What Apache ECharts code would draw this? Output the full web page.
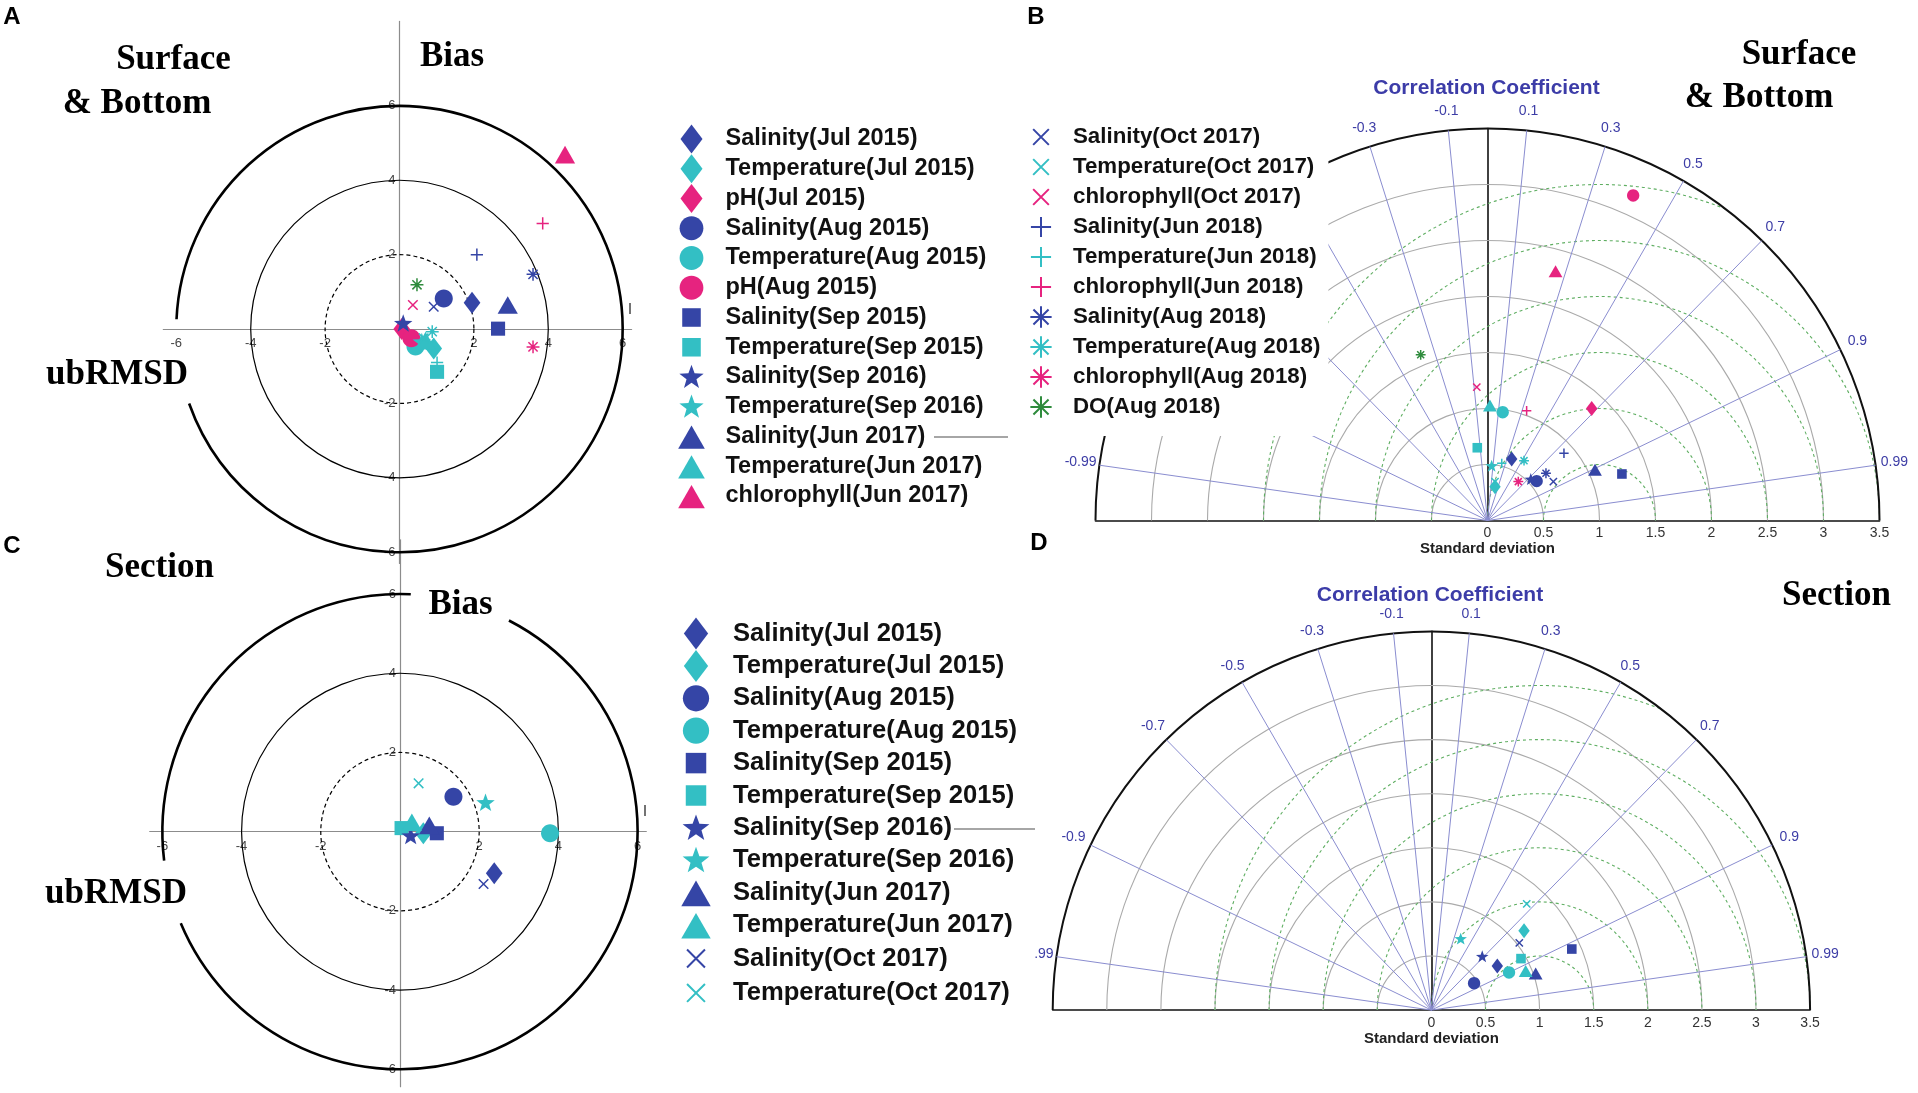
<!DOCTYPE html>
<html><head><meta charset="utf-8">
<script src="https://cdn.jsdelivr.net/npm/echarts@6/dist/echarts.min.js"></script>
<style>html,body{margin:0;padding:0;background:#fff}#c{width:1918px;height:1093px}</style>
</head><body><div id="c"></div><script>
// ===================== DATA =====================
// Panels A (target) and B (Taylor) : Surface & Bottom
const namesAB = [
  'Salinity(Jul 2015)','Temperature(Jul 2015)','pH(Jul 2015)',
  'Salinity(Aug 2015)','Temperature(Aug 2015)','pH(Aug 2015)',
  'Salinity(Sep 2015)','Temperature(Sep 2015)',
  'Salinity(Sep 2016)','Temperature(Sep 2016)',
  'Salinity(Jun 2017)','Temperature(Jun 2017)','chlorophyll(Jun 2017)',
  'Salinity(Oct 2017)','Temperature(Oct 2017)','chlorophyll(Oct 2017)',
  'Salinity(Jun 2018)','Temperature(Jun 2018)','chlorophyll(Jun 2018)',
  'Salinity(Aug 2018)','Temperature(Aug 2018)','chlorophyll(Aug 2018)','DO(Aug 2018)'
];
const legendA = namesAB.slice(0, 13);
const legendB = namesAB.slice(13);
// target diagram A: x = ubRMSD, y = Bias
const targetA_ubrmsd = [1.95, 0.92, 0.06, 1.19, 0.43, 0.32, 2.65, 1.01, 0.10, 0.60, 2.91, 0.70, 4.45, 0.92, 0.65, 0.36, 2.08, 1.01, 3.85, 3.59, 0.88, 3.59, 0.47];
const targetA_bias   = [0.71, -0.52, 0.00, 0.82, -0.47, -0.25, 0.01, -1.15, 0.15, -0.35, 0.66, -0.30, 4.70, 0.60, -0.25, 0.645, 2.00, -0.90, 2.84, 1.47, -0.07, -0.48, 1.19];
// Taylor diagram B: standard deviation and correlation coefficient
const taylorB_std  = [0.59, 0.309, 1.366, 0.563, 0.976, 3.18, 1.27, 0.656, 0.533, 0.488, 1.063, 1.03, 2.31, 0.683, 0.353, 1.194, 0.909, 0.526, 1.04, 0.671, 0.626, 0.443, 1.595];
const taylorB_corr = [0.366, 0.217, 0.681, 0.78, 0.139, 0.409, 0.945, -0.139, 0.725, 0.076, 0.903, 0.021, 0.263, 0.861, 0.19, -0.08, 0.751, 0.242, 0.336, 0.778, 0.521, 0.621, -0.374];

// Panels C (target) and D (Taylor) : Section
const namesCD = [
  'Salinity(Jul 2015)','Temperature(Jul 2015)','Salinity(Aug 2015)','Temperature(Aug 2015)',
  'Salinity(Sep 2015)','Temperature(Sep 2015)','Salinity(Sep 2016)','Temperature(Sep 2016)',
  'Salinity(Jun 2017)','Temperature(Jun 2017)','Salinity(Oct 2017)','Temperature(Oct 2017)'
];
const targetC_ubrmsd = [2.38, 0.59, 1.35, 3.79, 0.93, 0.04, 0.27, 2.16, 0.74, 0.30, 2.11, 0.47];
const targetC_bias   = [-1.05, -0.04, 0.88, -0.04, -0.04, 0.09, -0.11, 0.73, 0.17, 0.25, -1.32, 1.22];
const taylorD_std  = [0.733, 1.128, 0.466, 0.797, 1.415, 0.955, 0.682, 0.711, 1.022, 0.944, 1.023, 1.319];
const taylorD_corr = [0.831, 0.759, 0.846, 0.900, 0.917, 0.867, 0.689, 0.381, 0.943, 0.923, 0.794, 0.668];

// axes / reference values
const targetRings = [2, 4, 6];
const targetTicks = [-6, -4, -2, 2, 4, 6];
const stdTicks = [0, 0.5, 1, 1.5, 2, 2.5, 3, 3.5];
const stdArcs = [0.5, 1, 1.5, 2, 2.5, 3];
const rmsArcs = [0.5, 1, 1.5, 2, 2.5, 3];
const corrTicks = [-0.99, -0.9, -0.7, -0.5, -0.3, -0.1, 0.1, 0.3, 0.5, 0.7, 0.9, 0.99];
const STD_MAX = 3.5;

// ===================== STYLE =====================
const SANS = '"Liberation Sans", Arial, sans-serif';
const SERIF = '"Liberation Serif", "Times New Roman", serif';
const COLORS = {Salinity:'#3545a6', Temperature:'#33bfc4', pH:'#e6237f', chlorophyll:'#e6237f', DO:'#2e8b3c'};
const SHAPES = {'Jul 2015':'diamond','Aug 2015':'circle','Sep 2015':'square','Sep 2016':'star',
                'Jun 2017':'triangle','Oct 2017':'x','Jun 2018':'plus','Aug 2018':'asterisk'};
const FRAME = 'M0,0M100,100';
const PATHS = {
  diamond: 'path://' + FRAME + 'M50,0L88,50L50,100L12,50Z',
  circle: 'path://' + FRAME + 'M50,9C72.6,9 91,27.4 91,50C91,72.6 72.6,91 50,91C27.4,91 9,72.6 9,50C9,27.4 27.4,9 50,9Z',
  square: 'path://' + FRAME + 'M18,18L82,18L82,82L18,82Z',
  triangle: 'path://' + FRAME + 'M50,12L96,92L4,92Z',
  star: 'path://' + FRAME + 'M50,8L60.6,37.4L91.9,38.4L67.1,57.6L75.9,87.6L50,70L24.1,87.6L32.9,57.6L8.1,38.4L39.4,37.4Z',
  x: 'path://' + FRAME + 'M22,22L78,78M78,22L22,78',
  plus: 'path://' + FRAME + 'M50,14L50,86M14,50L86,50',
  asterisk: 'path://' + FRAME + 'M50,12L50,88M12,50L88,50M23,23L77,77M77,23L23,77'
};
const LINE_SHAPES = {x:1, plus:1, asterisk:1};

function parseName(n) { const m = n.match(/^(.*)\((.*)\)$/); return {param: m[1], date: m[2]}; }

function scatterSeries(names, xs, ys, gi, sizeFill, sizeLine) {
  return names.map((n, i) => {
    const p = parseName(n); const shape = SHAPES[p.date]; const col = COLORS[p.param];
    const isLine = !!LINE_SHAPES[shape];
    return {
      type: 'scatter', name: n, xAxisIndex: gi, yAxisIndex: gi,
      data: [[xs[i], ys[i]]], symbol: PATHS[shape], symbolKeepAspect: true,
      symbolSize: isLine ? sizeLine : sizeFill, z: 5, silent: true,
      itemStyle: isLine ? {color: col, borderColor: col, borderWidth: 1.5, opacity: 1} : {color: col, borderWidth: 0, opacity: 1},
      emphasis: {disabled: true}
    };
  });
}
function taylorXY(std, corr) {
  return {xs: std.map((s, i) => s * corr[i]), ys: std.map((s, i) => s * Math.sqrt(1 - corr[i] * corr[i]))};
}

function arcSeries(gi, arcs) {
  return {
    type: 'custom', xAxisIndex: gi, yAxisIndex: gi, silent: true, z: 1,
    data: arcs.map((a, i) => [i, 0]),
    renderItem(params, api) {
      const a = arcs[api.value(0)];
      const c = api.coord([a.cx, 0]);
      const rp = api.size([a.r, 0])[0];
      return {type: 'arc', shape: {cx: c[0], cy: c[1], r: rp,
        startAngle: -a.a2 * Math.PI / 180, endAngle: -a.a1 * Math.PI / 180, clockwise: true},
        style: {fill: 'none', stroke: a.color, lineWidth: a.width, lineDash: a.dash || null}};
    }
  };
}
function radialSeries(gi) {
  return {
    type: 'custom', xAxisIndex: gi, yAxisIndex: gi, silent: true, z: 1,
    data: corrTicks.map((c, i) => [i, 0]),
    renderItem(params, api) {
      const c = corrTicks[api.value(0)];
      const o = api.coord([0, 0]);
      const e = api.coord([STD_MAX * c, STD_MAX * Math.sqrt(1 - c * c)]);
      return {type: 'line', shape: {x1: o[0], y1: o[1], x2: e[0], y2: e[1]},
        style: {stroke: '#8a8dd0', lineWidth: 1}};
    }
  };
}
function corrLabelSeries(gi) {
  return {
    type: 'custom', xAxisIndex: gi, yAxisIndex: gi, silent: true, z: 3,
    data: corrTicks.map((c, i) => [i, 0]),
    renderItem(params, api) {
      const c = corrTicks[api.value(0)];
      const o = api.coord([0, 0]);
      const e = api.coord([STD_MAX * c, STD_MAX * Math.sqrt(1 - c * c)]);
      const dx = e[0] - o[0], dy = e[1] - o[1], L = Math.hypot(dx, dy), k = (L + 19) / L;
      return {type: 'text', x: o[0] + dx * k, y: o[1] + dy * k,
        style: {text: String(c), fill: '#3d3da6', fontSize: 14, fontFamily: SANS,
          align: 'center', verticalAlign: 'middle', textAlign: 'center', textVerticalAlign: 'middle'}};
    }
  };
}
function taylorDecor(gi) {
  const arcs = [];
  stdArcs.forEach(r => arcs.push({cx: 0, r, a1: 0, a2: 180, color: '#aaaaaa', width: 1.1}));
  rmsArcs.forEach(d => {
    const xi = (STD_MAX * STD_MAX - d * d + 1) / 2;
    const a1 = xi < 1 + d ? Math.acos((xi - 1) / d) * 180 / Math.PI : 0;
    arcs.push({cx: 1, r: d, a1, a2: 180, color: '#5fae62', width: 1.1, dash: [3, 3]});
  });
  arcs.push({cx: 0, r: STD_MAX, a1: 0, a2: 180, color: '#111', width: 2});
  return [arcSeries(gi, arcs), radialSeries(gi), corrLabelSeries(gi)];
}
function targetArcs(gaps) {
  const out = [];
  gaps.forEach(g => out.push({cx: 0, r: targetRings[2], a1: g[0], a2: g[1], color: '#000', width: 2.6}));
  out.push({cx: 0, r: targetRings[1], a1: 0, a2: 360, color: '#000', width: 1.2});
  out.push({cx: 0, r: targetRings[0], a1: 0, a2: 360, color: '#000', width: 1.2, dash: [4, 3]});
  return out;
}

const GRIDS = [
  {left: 163.3, top: 21.4, width: 468.3, height: 542.0},
  {left: 1095.5, top: 128.5, width: 784, height: 392},
  {left: 149.7, top: 539.8, width: 496.6, height: 546.9},
  {left: 1052.7, top: 631.4, width: 757.4, height: 378.7}
];

function targetAxes(gi, xmin, xmax, ymin, ymax) {
  const g = GRIDS[gi];
  const xOff = -(-ymin) * g.height / (ymax - ymin);   // move x axis up to y = 0
  const yOff = -(-xmin) * g.width / (xmax - xmin);    // move y axis right to x = 0
  const lab = {customValues: targetTicks, fontSize: 13, color: '#444', fontFamily: SANS};
  return {
    x: {gridIndex: gi, type: 'value', min: xmin, max: xmax, offset: xOff,
      axisLine: {onZero: false, lineStyle: {color: '#8c8c8c', width: 1.2}},
      axisTick: {show: false}, splitLine: {show: false}, axisLabel: Object.assign({margin: 8}, lab)},
    y: {gridIndex: gi, type: 'value', min: ymin, max: ymax, offset: yOff,
      axisLine: {onZero: false, lineStyle: {color: '#8c8c8c', width: 1.2}},
      axisTick: {show: false}, splitLine: {show: false}, axisLabel: Object.assign({margin: 4}, lab)}
  };
}
function taylorAxes(gi) {
  return {
    x: {gridIndex: gi, type: 'value', min: -STD_MAX, max: STD_MAX,
      axisLine: {onZero: false, lineStyle: {color: '#111', width: 1.6}},
      axisTick: {show: false}, splitLine: {show: false},
      axisLabel: {customValues: stdTicks, margin: 6, fontSize: 14, color: '#333', fontFamily: SANS},
      name: 'Standard deviation', nameLocation: 'middle', nameGap: 16,
      nameTextStyle: {fontWeight: 'bold', fontSize: 15, color: '#222', fontFamily: SANS}},
    y: {gridIndex: gi, type: 'value', min: 0, max: STD_MAX,
      axisLine: {onZero: true, lineStyle: {color: '#111', width: 1.6}},
      axisTick: {show: false}, splitLine: {show: false}, axisLabel: {show: false}}
  };
}

const axA = targetAxes(0, -6.35, 6.24, -6.3, 8.27);
const axB = taylorAxes(1);
const axC = targetAxes(2, -6.32, 6.22, -6.44, 7.37);
const axD = taylorAxes(3);

const xyB = taylorXY(taylorB_std, taylorB_corr);
const xyD = taylorXY(taylorD_std, taylorD_corr);

function txt(t, x, y, font, color) {
  return {type: 'text', x, y, z: 100, silent: true,
    style: {text: t, font, fill: color || '#000', align: 'center', verticalAlign: 'middle',
      textAlign: 'center', textVerticalAlign: 'middle'}};
}
const LET = 'bold 24px ' + SANS;
const TTL = 'bold 35px ' + SERIF;
const CC = 'bold 21px ' + SANS;

const legendText = (size) => ({fontSize: size, fontWeight: 'bold', fontFamily: SANS, color: '#111'});

const option = {
  animation: false,
  backgroundColor: '#fff',
  grid: GRIDS,
  xAxis: [axA.x, axB.x, axC.x, axD.x],
  yAxis: [axA.y, axB.y, axC.y, axD.y],
  legend: [
    {data: legendA, orient: 'vertical', left: 677, top: 120.5, padding: [4, 10, 4, 0],
      itemWidth: 58, itemHeight: 29, itemGap: 0.75, selectedMode: false,
      backgroundColor: '#fff', textStyle: legendText(23.5)},
    {data: legendB, orient: 'vertical', left: 1018, top: 110, padding: [12, 8, 14, 8],
      itemWidth: 54, itemHeight: 28, itemGap: 0, selectedMode: false,
      backgroundColor: '#fff', textStyle: legendText(22.3)},
    {data: namesCD, orient: 'vertical', left: 675, top: 611.5, padding: [6, 18, 6, 4],
      itemWidth: 64, itemHeight: 32, itemGap: 0.4, selectedMode: false,
      backgroundColor: '#fff', textStyle: legendText(25.6)}
  ],
  graphic: [
    txt('A', 12, 17, LET), txt('B', 1036, 17, LET), txt('C', 12, 546, LET), txt('D', 1039, 543, LET),
    txt('Surface', 173.5, 60, TTL), txt('& Bottom', 137, 104, TTL),
    txt('Bias', 452, 57, TTL), txt('ubRMSD', 117, 375, TTL),
    txt('Surface', 1799, 55, TTL), txt('& Bottom', 1759, 98, TTL),
    txt('Section', 159.5, 568, TTL), txt('Bias', 460.5, 605, TTL), txt('ubRMSD', 116, 894, TTL),
    txt('Section', 1836.5, 596, TTL),
    txt('Correlation Coefficient', 1486.5, 88, CC, '#3c3ca8'),
    txt('Correlation Coefficient', 1430, 595, CC, '#3c3ca8'),
    {type: 'line', z: 100, silent: true, shape: {x1: 934, y1: 437, x2: 1008, y2: 437}, style: {stroke: '#888', lineWidth: 1.5}},
    {type: 'line', z: 100, silent: true, shape: {x1: 954, y1: 829, x2: 1035, y2: 829}, style: {stroke: '#888', lineWidth: 1.5}},
    {type: 'line', z: 100, silent: true, shape: {x1: 630, y1: 303, x2: 630, y2: 314}, style: {stroke: '#444', lineWidth: 1.5}},
    {type: 'line', z: 100, silent: true, shape: {x1: 645, y1: 805, x2: 645, y2: 816}, style: {stroke: '#444', lineWidth: 1.5}}
  ],
  series: [].concat(
    [arcSeries(0, targetArcs([[199.5, 537.5]]))],
    [arcSeries(2, targetArcs([[202.7, 422.7], [87.4, 187]]))],
    taylorDecor(1), taylorDecor(3),
    scatterSeries(namesAB, targetA_ubrmsd, targetA_bias, 0, 22, 17),
    scatterSeries(namesAB, xyB.xs, xyB.ys, 1, 15, 13),
    scatterSeries(namesCD, targetC_ubrmsd, targetC_bias, 2, 22, 17),
    scatterSeries(namesCD, xyD.xs, xyD.ys, 3, 15, 13)
  )
};
const chart = echarts.init(document.getElementById('c'), null, {renderer: 'canvas'});
chart.setOption(option);
</script></body></html>
